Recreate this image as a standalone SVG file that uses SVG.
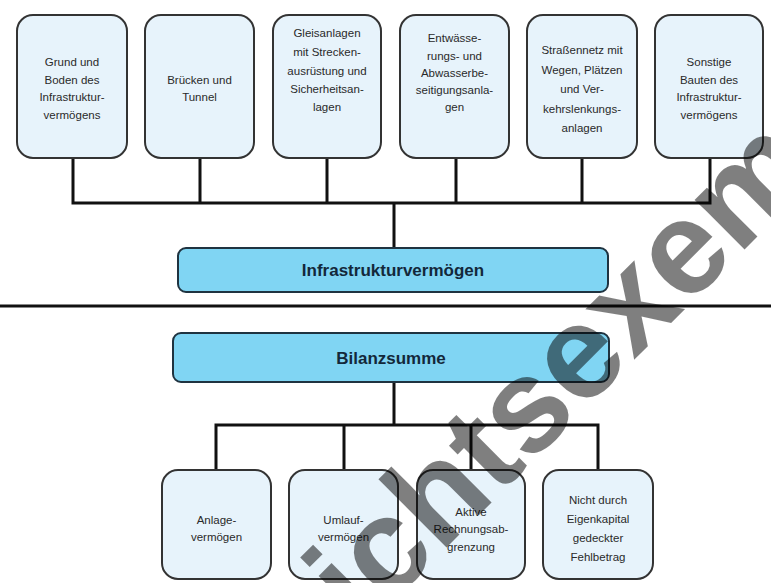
<svg xmlns="http://www.w3.org/2000/svg" width="771" height="583" viewBox="0 0 771 583">
<style>
.box{fill:#e7f3fb;stroke:#333;stroke-width:2}
.main{fill:#80d5f3;stroke:#1f3340;stroke-width:2}
.t{font-family:"Liberation Sans",Arial,sans-serif;font-size:11.5px;fill:#2a2a2a;text-anchor:middle}
.b{font-family:"Liberation Sans",Arial,sans-serif;font-size:17px;font-weight:bold;fill:#13283a;text-anchor:middle}
.c{fill:none;stroke:#111;stroke-width:3;stroke-linecap:square}
.wm{font-family:"Liberation Sans",Arial,sans-serif;font-size:133px;font-weight:bold;fill:#000;fill-opacity:0.5}
</style>
<rect width="771" height="583" fill="#fff"/>
<g id="connectors">
<path class="c" d="M73 158V203M200 158V203M327 158V203M456 158V203M582 158V203M710 158V203M73 203H710M394 203V248"/>
<path class="c" d="M0 306H771" stroke-linecap="butt"/>
<path class="c" d="M394 382V425M216 425H598M216 425V470M344 425V470M471 425V470M598 425V470"/>
</g>
<g id="n1"><rect class="box" x="17" y="15" width="110" height="143" rx="16"/>
<text class="t"><tspan x="72" y="66">Grund und</tspan><tspan x="72" y="84">Boden des</tspan><tspan x="72" y="101">Infrastruktur-</tspan><tspan x="72" y="119">vermögens</tspan></text></g>
<g id="n2"><rect class="box" x="145" y="15" width="109" height="143" rx="16"/>
<text class="t"><tspan x="199.5" y="84">Brücken und</tspan><tspan x="199.5" y="101">Tunnel</tspan></text></g>
<g id="n3"><rect class="box" x="273" y="15" width="108" height="143" rx="16"/>
<text class="t"><tspan x="327" y="37">Gleisanlagen</tspan><tspan x="327" y="56">mit Strecken-</tspan><tspan x="327" y="75">ausrüstung und</tspan><tspan x="327" y="93">Sicherheitsan-</tspan><tspan x="327" y="111">lagen</tspan></text></g>
<g id="n4"><rect class="box" x="400" y="15" width="109" height="143" rx="16"/>
<text class="t"><tspan x="454.5" y="42">Entwässe-</tspan><tspan x="454.5" y="60">rungs- und</tspan><tspan x="454.5" y="77">Abwasserbe-</tspan><tspan x="454.5" y="94">seitigungsanla-</tspan><tspan x="454.5" y="111">gen</tspan></text></g>
<g id="n5"><rect class="box" x="527" y="15" width="110" height="143" rx="16"/>
<text class="t"><tspan x="582" y="54">Straßennetz mit</tspan><tspan x="582" y="74">Wegen, Plätzen</tspan><tspan x="582" y="93">und Ver-</tspan><tspan x="582" y="113">kehrslenkungs-</tspan><tspan x="582" y="132">anlagen</tspan></text></g>
<g id="n6"><rect class="box" x="655" y="15" width="108" height="143" rx="16"/>
<text class="t"><tspan x="709" y="66">Sonstige</tspan><tspan x="709" y="84">Bauten des</tspan><tspan x="709" y="101">Infrastruktur-</tspan><tspan x="709" y="119">vermögens</tspan></text></g>
<g id="infra"><rect class="main" x="178" y="248" width="430" height="44" rx="8"/>
<text class="b" x="393" y="276">Infrastrukturvermögen</text></g>
<g id="bilanz"><rect class="main" x="173" y="333" width="436" height="49" rx="8"/>
<text class="b" x="391" y="364">Bilanzsumme</text></g>
<g id="b1"><rect class="box" x="162" y="470" width="109" height="109" rx="16"/>
<text class="t"><tspan x="216.5" y="524">Anlage-</tspan><tspan x="216.5" y="541">vermögen</tspan></text></g>
<g id="b2"><rect class="box" x="289" y="470" width="109" height="109" rx="16"/>
<text class="t"><tspan x="343.5" y="524">Umlauf-</tspan><tspan x="343.5" y="541">vermögen</tspan></text></g>
<g id="b3"><rect class="box" x="417" y="470" width="108" height="109" rx="16"/>
<text class="t"><tspan x="471" y="516">Aktive</tspan><tspan x="471" y="533">Rechnungsab-</tspan><tspan x="471" y="551">grenzung</tspan></text></g>
<g id="b4"><rect class="box" x="543" y="470" width="110" height="109" rx="16"/>
<text class="t"><tspan x="598" y="504">Nicht durch</tspan><tspan x="598" y="523">Eigenkapital</tspan><tspan x="598" y="542">gedeckter</tspan><tspan x="598" y="561">Fehlbetrag</tspan></text></g>
<text class="wm" x="184" y="810" transform="rotate(-45 184 810)">Ansichtsexemplar</text>
</svg>
